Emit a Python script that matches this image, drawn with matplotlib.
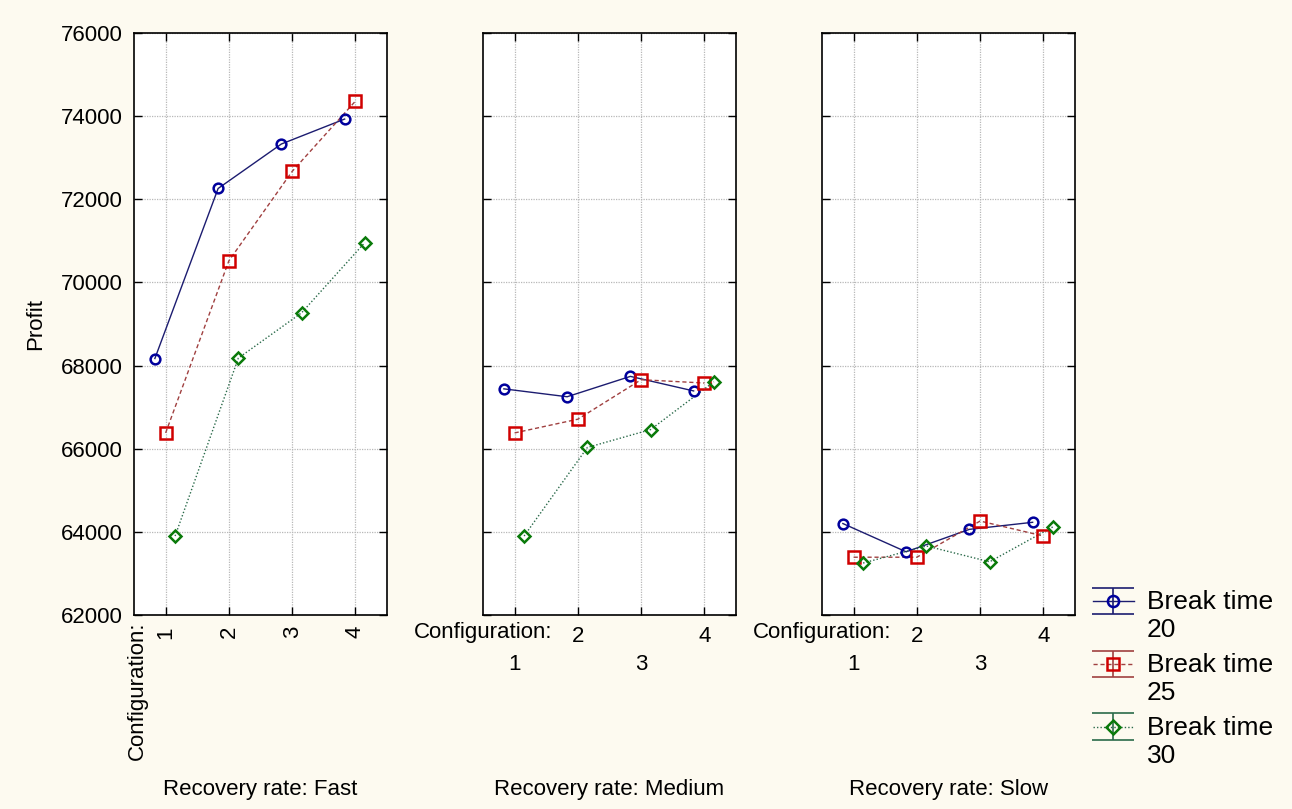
import numpy as np
import matplotlib.pyplot as plt
from matplotlib.lines import Line2D
from matplotlib.collections import LineCollection
from matplotlib.container import ErrorbarContainer
from matplotlib.legend_handler import HandlerErrorbar
from matplotlib.transforms import Affine2D

plt.rcParams['font.family'] = ['Liberation Sans', 'DejaVu Sans']

# data
config = [1, 2, 3, 4]
rates = ["Fast", "Medium", "Slow"]
break_times = [20, 25, 30]

profit_fast = {
    20: [68170, 72260, 73330, 73930],
    25: [66380, 70520, 72670, 74360],
    30: [63900, 68180, 69270, 70960],
}
profit_medium = {
    20: [67440, 67250, 67740, 67390],
    25: [66380, 66710, 67660, 67580],
    30: [63900, 66030, 66460, 67610],
}
profit_slow = {
    20: [64200, 63520, 64060, 64230],
    25: [63390, 63390, 64260, 63900],
    30: [63250, 63660, 63280, 64120],
}
profits = [profit_fast, profit_medium, profit_slow]

# style per break time
colors = {20: "#00009c", 25: "#d00000", 30: "#0a7a0a"}
line_colors = {20: "#1c1c70", 25: "#a04040", 30: "#2a6a4a"}
styles = {20: "-", 25: (0, (3, 2)), 30: (0, (1, 1.5))}
markers = {20: "o", 25: "s", 30: "D"}
msizes = {20: 7, 25: 8, 30: 6}
offsets = {20: -0.17, 25: 0.0, 30: 0.15}


class ShiftedErrorbar(HandlerErrorbar):
    # lift the handle so it sits next to the first text line
    def __init__(self, dy, **kw):
        super().__init__(**kw)
        self.dy = dy

    def create_artists(self, legend, orig_handle, xdescent, ydescent, width,
                       height, fontsize, trans):
        t = Affine2D().translate(0, self.dy) + trans
        return super().create_artists(legend, orig_handle, xdescent, ydescent,
                                      width, height, fontsize, t)


bg = "#fdfaf0"
fig = plt.figure(figsize=(12.92, 8.09), dpi=100, facecolor=bg)

lefts = [134 / 1292, 483 / 1292, 822 / 1292]
width = 253 / 1292
bottom = (809 - 615) / 809
height = 582 / 809

axes = []
for k, rate in enumerate(rates):
    ax = fig.add_axes([lefts[k], bottom, width, height])
    axes.append(ax)
    x = np.array(config, dtype=float)
    for bt in break_times:
        ax.plot(x + offsets[bt], profits[k][bt], color=line_colors[bt],
                ls=styles[bt], lw=1.0, zorder=3)
        ax.plot(x + offsets[bt], profits[k][bt], ls="none", marker=markers[bt],
                ms=msizes[bt], mfc="none", mec=colors[bt], mew=1.8, zorder=4)
    ax.set_xlim(0.5, 4.5)
    ax.set_ylim(62000, 76000)
    ax.set_yticks(np.arange(62000, 76001, 2000))
    ax.grid(True, which="both", color="#b8b8b8", ls=(0, (1, 1)), lw=0.9)
    ax.tick_params(which="both", direction="in", length=6, width=1, top=True,
                   right=True, labelsize=16, pad=8)
    for s in ax.spines.values():
        s.set_linewidth(1.2)
    ax.text(0.5, -0.30, "Recovery rate: " + rate, transform=ax.transAxes,
            ha="center", va="center", fontsize=16)
    if k == 0:
        ax.set_xticks(config)
        ax.set_xticklabels([str(c) for c in config], rotation=90)
        ax.set_ylabel("Profit", fontsize=16)
        ax.yaxis.set_label_coords(-0.347, 0.5)
        ax.text(0.55, -0.012, "Configuration:", transform=ax.get_xaxis_transform(),
                rotation=90, ha="center", va="top", fontsize=16)
    else:
        ax.set_yticklabels([])
        even = [c for c in config if c % 2 == 0]
        odd = [c for c in config if c % 2 == 1]
        ax.set_xticks(even)
        ax.set_xticklabels([str(c) for c in even])
        ax.set_xticks(odd, minor=True)
        ax.set_xticklabels([str(c) for c in odd], minor=True)
        ax.tick_params(axis="x", which="minor", pad=28)
        ax.text(1.6, -0.012, "Configuration:", transform=ax.get_xaxis_transform(),
                ha="right", va="top", fontsize=16)

# legend with error-bar style handles
handles = []
for bt in break_times:
    dline = Line2D([], [], color=line_colors[bt], ls=styles[bt], lw=1.0,
                   marker=markers[bt], ms=msizes[bt] + 1, mfc="none",
                   mec=colors[bt], mew=1.8)
    caps = (Line2D([], [], color=line_colors[bt], ls="none", marker="_", ms=30, mew=1.2),
            Line2D([], [], color=line_colors[bt], ls="none", marker="_", ms=30, mew=1.2))
    bars = LineCollection([], colors=line_colors[bt], linewidths=1.2)
    handles.append(ErrorbarContainer((dline, caps, [bars]), has_xerr=False,
                                     has_yerr=True, label="Break time\n%d" % bt))

fig.legend(handles=handles, loc="upper left", bbox_to_anchor=(1093 / 1292, 1 - 590 / 809),
           frameon=False, fontsize=19, handlelength=1.55, handletextpad=0.5,
           labelspacing=0.42, borderpad=0, borderaxespad=0,
           handler_map={ErrorbarContainer: ShiftedErrorbar(dy=11)})

fig.savefig("out.png", dpi=100, facecolor=bg)
